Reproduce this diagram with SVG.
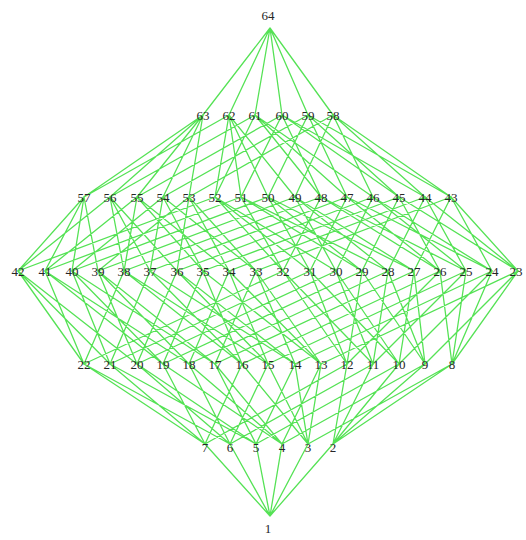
<svg xmlns="http://www.w3.org/2000/svg" width="526" height="540" viewBox="0 0 526 540">
<style>
.e{fill:none;stroke:#55e255;stroke-width:1.3;stroke-linecap:round}
.n text{font-family:"Liberation Serif","DejaVu Serif",serif;font-size:13px;fill:#262626;text-anchor:middle}
</style>
<rect width="526" height="540" fill="#fff"/>
<g id="connectors">
<path class="e" d="M270 516L205 444M270 516L230 444M270 516L256 444M270 516L282 444M270 516L308 444M270 516L333 444"/>
<path class="e" d="M452 364L333 444M452 364L308 444
M425 364L333 444M425 364L282 444
M399 364L333 444M399 364L256 444
M373 364L333 444M373 364L230 444
M347 364L333 444M347 364L205 444
M321 364L308 444M321 364L282 444
M295 364L308 444M295 364L256 444
M268 364L308 444M268 364L230 444
M242 364L308 444M242 364L205 444
M215 364L282 444M215 364L256 444
M189 364L282 444M189 364L230 444
M163 364L282 444M163 364L205 444
M137 364L256 444M137 364L230 444
M110 364L256 444M110 364L205 444
M84 364L230 444M84 364L205 444"/>
<path class="e" d="M518 271L452 364M518 271L425 364M518 271L321 364
M492 271L452 364M492 271L399 364M492 271L295 364
M466 271L452 364M466 271L373 364M466 271L268 364
M440 271L452 364M440 271L347 364M440 271L242 364
M414 271L425 364M414 271L399 364M414 271L215 364
M388 271L425 364M388 271L373 364M388 271L189 364
M362 271L425 364M362 271L347 364M362 271L163 364
M336 271L399 364M336 271L373 364M336 271L137 364
M310 271L399 364M310 271L347 364M310 271L110 364
M283 271L373 364M283 271L347 364M283 271L84 364
M256 271L321 364M256 271L295 364M256 271L215 364
M229 271L321 364M229 271L268 364M229 271L189 364
M203 271L321 364M203 271L242 364M203 271L163 364
M177 271L295 364M177 271L268 364M177 271L137 364
M150 271L295 364M150 271L242 364M150 271L110 364
M124 271L268 364M124 271L242 364M124 271L84 364
M98 271L215 364M98 271L189 364M98 271L137 364
M72 271L215 364M72 271L163 364M72 271L110 364
M45 271L189 364M45 271L163 364M45 271L84 364
M18 271L137 364M18 271L110 364M18 271L84 364"/>
<path class="e" d="M451 197L518 271M451 197L492 271M451 197L414 271M451 197L256 271
M425 197L518 271M425 197L466 271M425 197L388 271M425 197L229 271
M399 197L518 271M399 197L440 271M399 197L362 271M399 197L203 271
M373 197L492 271M373 197L466 271M373 197L336 271M373 197L177 271
M347 197L492 271M347 197L440 271M347 197L310 271M347 197L150 271
M321 197L466 271M321 197L440 271M321 197L283 271M321 197L124 271
M295 197L414 271M295 197L388 271M295 197L336 271M295 197L98 271
M268 197L414 271M268 197L362 271M268 197L310 271M268 197L72 271
M241 197L388 271M241 197L362 271M241 197L283 271M241 197L45 271
M215 197L336 271M215 197L310 271M215 197L283 271M215 197L18 271
M189 197L256 271M189 197L229 271M189 197L177 271M189 197L98 271
M163 197L256 271M163 197L203 271M163 197L150 271M163 197L72 271
M137 197L229 271M137 197L203 271M137 197L124 271M137 197L45 271
M110 197L177 271M110 197L150 271M110 197L124 271M110 197L18 271
M84 197L98 271M84 197L72 271M84 197L45 271M84 197L18 271"/>
<path class="e" d="M333 115L451 197M333 115L425 197M333 115L373 197M333 115L295 197M333 115L189 197
M308 115L451 197M308 115L399 197M308 115L347 197M308 115L268 197M308 115L163 197
M282 115L425 197M282 115L399 197M282 115L321 197M282 115L241 197M282 115L137 197
M255 115L373 197M255 115L347 197M255 115L321 197M255 115L215 197M255 115L110 197
M229 115L295 197M229 115L268 197M229 115L241 197M229 115L215 197M229 115L84 197
M203 115L189 197M203 115L163 197M203 115L137 197M203 115L110 197M203 115L84 197"/>
<path class="e" d="M270 28L203 115M270 28L229 115M270 28L255 115M270 28L282 115M270 28L308 115M270 28L333 115"/>
</g>
<g class="n" id="n64"><text x="268" y="20">64</text></g>
<g class="n" id="n63"><text x="203" y="120">63</text></g>
<g class="n" id="n62"><text x="229" y="120">62</text></g>
<g class="n" id="n61"><text x="255" y="120">61</text></g>
<g class="n" id="n60"><text x="282" y="120">60</text></g>
<g class="n" id="n59"><text x="308" y="120">59</text></g>
<g class="n" id="n58"><text x="333" y="120">58</text></g>
<g class="n" id="n57"><text x="84" y="202">57</text></g>
<g class="n" id="n56"><text x="110" y="202">56</text></g>
<g class="n" id="n55"><text x="137" y="202">55</text></g>
<g class="n" id="n54"><text x="163" y="202">54</text></g>
<g class="n" id="n53"><text x="189" y="202">53</text></g>
<g class="n" id="n52"><text x="215" y="202">52</text></g>
<g class="n" id="n51"><text x="241" y="202">51</text></g>
<g class="n" id="n50"><text x="268" y="202">50</text></g>
<g class="n" id="n49"><text x="295" y="202">49</text></g>
<g class="n" id="n48"><text x="321" y="202">48</text></g>
<g class="n" id="n47"><text x="347" y="202">47</text></g>
<g class="n" id="n46"><text x="373" y="202">46</text></g>
<g class="n" id="n45"><text x="399" y="202">45</text></g>
<g class="n" id="n44"><text x="425" y="202">44</text></g>
<g class="n" id="n43"><text x="451" y="202">43</text></g>
<g class="n" id="n42"><text x="18" y="276">42</text></g>
<g class="n" id="n41"><text x="45" y="276">41</text></g>
<g class="n" id="n40"><text x="72" y="276">40</text></g>
<g class="n" id="n39"><text x="98" y="276">39</text></g>
<g class="n" id="n38"><text x="124" y="276">38</text></g>
<g class="n" id="n37"><text x="150" y="276">37</text></g>
<g class="n" id="n36"><text x="177" y="276">36</text></g>
<g class="n" id="n35"><text x="203" y="276">35</text></g>
<g class="n" id="n34"><text x="229" y="276">34</text></g>
<g class="n" id="n33"><text x="256" y="276">33</text></g>
<g class="n" id="n32"><text x="283" y="276">32</text></g>
<g class="n" id="n31"><text x="310" y="276">31</text></g>
<g class="n" id="n30"><text x="336" y="276">30</text></g>
<g class="n" id="n29"><text x="362" y="276">29</text></g>
<g class="n" id="n28"><text x="388" y="276">28</text></g>
<g class="n" id="n27"><text x="414" y="276">27</text></g>
<g class="n" id="n26"><text x="440" y="276">26</text></g>
<g class="n" id="n25"><text x="466" y="276">25</text></g>
<g class="n" id="n24"><text x="492" y="276">24</text></g>
<g class="n" id="n23"><text x="516" y="276">23</text></g>
<g class="n" id="n22"><text x="84" y="369">22</text></g>
<g class="n" id="n21"><text x="110" y="369">21</text></g>
<g class="n" id="n20"><text x="137" y="369">20</text></g>
<g class="n" id="n19"><text x="163" y="369">19</text></g>
<g class="n" id="n18"><text x="189" y="369">18</text></g>
<g class="n" id="n17"><text x="215" y="369">17</text></g>
<g class="n" id="n16"><text x="242" y="369">16</text></g>
<g class="n" id="n15"><text x="268" y="369">15</text></g>
<g class="n" id="n14"><text x="295" y="369">14</text></g>
<g class="n" id="n13"><text x="321" y="369">13</text></g>
<g class="n" id="n12"><text x="347" y="369">12</text></g>
<g class="n" id="n11"><text x="373" y="369">11</text></g>
<g class="n" id="n10"><text x="399" y="369">10</text></g>
<g class="n" id="n9"><text x="425" y="369">9</text></g>
<g class="n" id="n8"><text x="452" y="369">8</text></g>
<g class="n" id="n7"><text x="205" y="452">7</text></g>
<g class="n" id="n6"><text x="230" y="452">6</text></g>
<g class="n" id="n5"><text x="256" y="452">5</text></g>
<g class="n" id="n4"><text x="282" y="452">4</text></g>
<g class="n" id="n3"><text x="308" y="452">3</text></g>
<g class="n" id="n2"><text x="333" y="452">2</text></g>
<g class="n" id="n1"><text x="268" y="533">1</text></g>
</svg>
